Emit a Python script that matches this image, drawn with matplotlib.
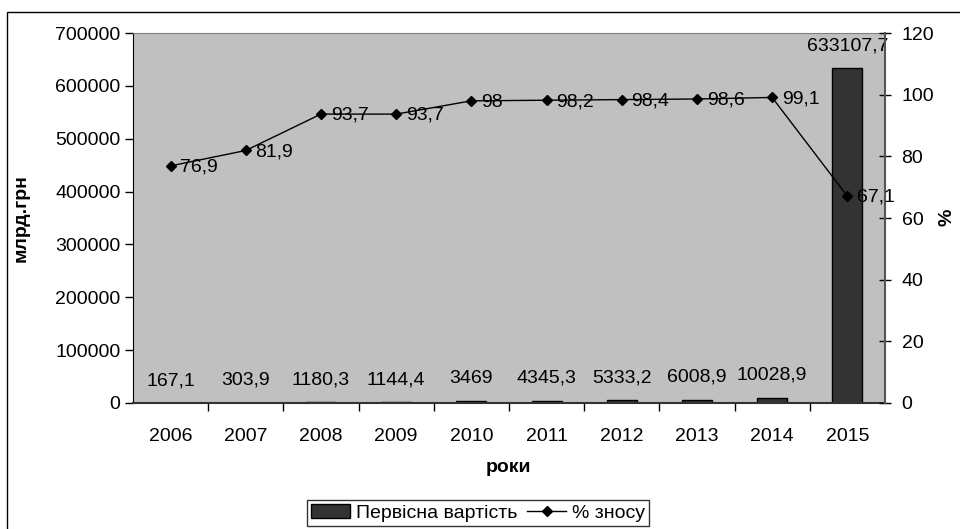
import matplotlib
matplotlib.use('Agg')
import matplotlib.pyplot as plt
import matplotlib.patches as patches
import numpy as np

plt.rcParams['font.family'] = ['Liberation Sans', 'DejaVu Sans']

# Дані
years = ['2006', '2007', '2008', '2009', '2010', '2011', '2012', '2013', '2014', '2015']
cost = [167.1, 303.9, 1180.3, 1144.4, 3469, 4345.3, 5333.2, 6008.9, 10028.9, 633107.7]
wear = [76.9, 81.9, 93.7, 93.7, 98, 98.2, 98.4, 98.6, 99.1, 67.1]

FS = 14


def fmt(v):
    s = ('%.1f' % v).rstrip('0').rstrip('.')
    return s.replace('.', ',')


fig = plt.figure(figsize=(9.6, 5.29), dpi=100)
ax = fig.add_axes([0.1385, 0.2382, 0.7833, 0.6994])
ax.set_facecolor('#c0c0c0')

x = np.arange(len(years))
bars = ax.bar(x, cost, width=0.4, color='#333333', edgecolor='black',
              linewidth=1, label='Первісна вартість', zorder=2)
ax.set_xlim(-0.5, len(years) - 0.5)
ax.set_ylim(0, 700000)
ax.set_yticks(np.arange(0, 700001, 100000))
ax.set_yticklabels([str(v) for v in range(0, 700001, 100000)])

# підписи стовпців
for xi, v in zip(x, cost):
    ax.annotate(fmt(v), xy=(xi, v), xytext=(0, 10), textcoords='offset points',
                ha='center', va='bottom', fontsize=FS)

# вісь x: підписи по центру, поділки між категоріями
ax.set_xticks(x)
ax.set_xticklabels(years, fontsize=FS)
ax.set_xticks(np.arange(0.5, len(years) - 0.5, 1), minor=True)
ax.tick_params(axis='x', which='major', length=0, pad=18)
ax.tick_params(axis='x', which='minor', length=6, direction='out', width=1)
ax.tick_params(axis='y', labelsize=FS, length=6, width=1, direction='out', pad=3)
ax.set_xlabel('роки', fontsize=FS, fontweight='bold', labelpad=10)
ax.set_ylabel('млрд.грн', fontsize=FS, fontweight='bold', labelpad=18)

ax.spines['top'].set_color('#808080')
ax.spines['right'].set_visible(False)
ax.spines['bottom'].set_color('#333333')
ax.spines['bottom'].set_linewidth(1.5)

# друга вісь
ax2 = ax.twinx()
line, = ax2.plot(x, wear, color='black', marker='D', markersize=5, lw=1,
                 label='% зносу', zorder=3)
ax2.set_ylim(0, 120)
ax2.set_yticks(np.arange(0, 121, 20))
ax2.tick_params(axis='y', labelsize=FS, length=8, width=1, direction='inout', pad=8)
ax2.spines['right'].set_color('#555555')
ax2.spines['right'].set_linewidth(1.5)
ax2.spines['top'].set_visible(False)
ax2.spines['left'].set_visible(False)
ax2.spines['bottom'].set_visible(False)
fig.text(0.986, 0.59, '%', rotation=90, ha='center', va='center',
         fontsize=FS, fontweight='bold')

for xi, v in zip(x, wear):
    ax2.annotate(fmt(v), xy=(xi, v), xytext=(7, -1), textcoords='offset points',
                 ha='left', va='center', fontsize=FS)

# легенда
fig.legend(handles=[bars, line], labels=['Первісна вартість', '% зносу'],
           loc='lower center', bbox_to_anchor=(0.498, -0.012), ncol=2,
           fontsize=FS, frameon=True, fancybox=False, edgecolor='black',
           borderpad=0.2, handlelength=2.0, handletextpad=0.3, columnspacing=0.5)

# рамка діаграми
fig.patches.append(patches.Rectangle((0.0073, -0.1), 1.2, 1.077, fill=False,
                                     edgecolor='black', lw=1,
                                     transform=fig.transFigure))

fig.savefig('out.png', dpi=100)
